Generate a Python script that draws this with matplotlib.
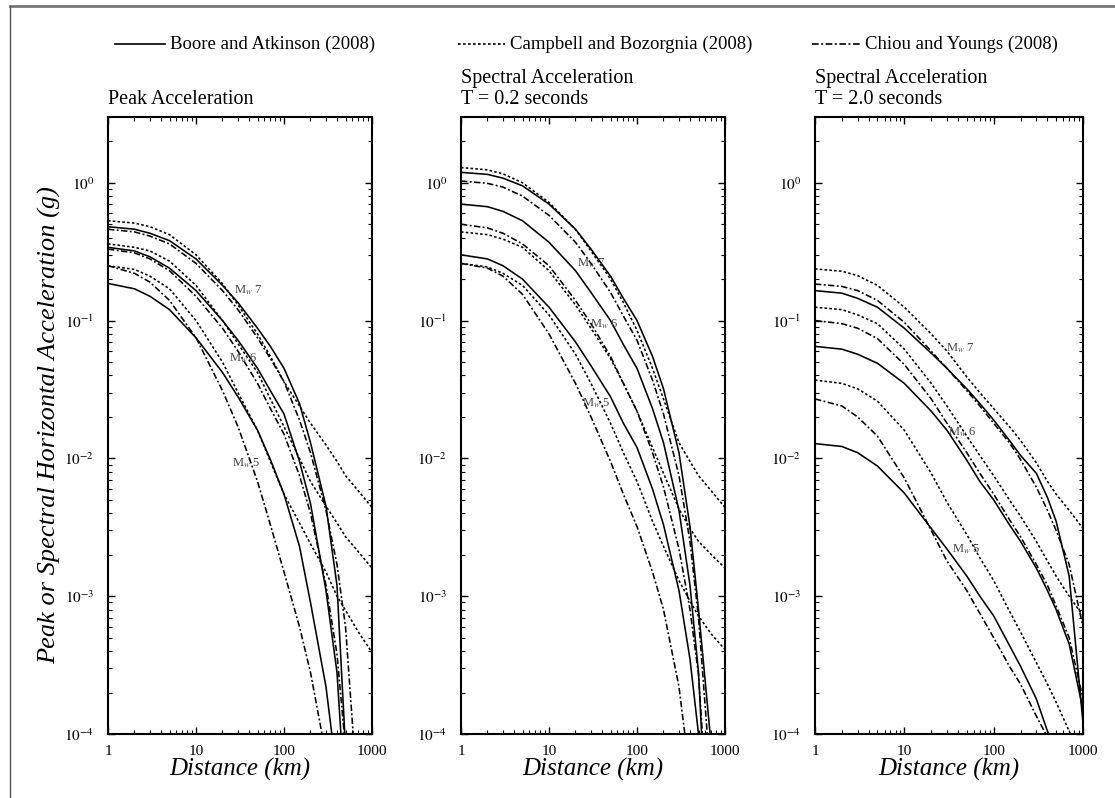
import numpy as np
import matplotlib
matplotlib.use("Agg")
import matplotlib.pyplot as plt
from matplotlib.lines import Line2D
from matplotlib.ticker import LogLocator, NullFormatter, FixedLocator

plt.rcParams['font.family'] = ['Liberation Serif', 'DejaVu Serif']
plt.rcParams['mathtext.fontset'] = 'stix'

dist = [1, 2, 3, 5, 10, 20, 30, 50, 70, 100, 150, 200, 300, 400, 500, 700, 1000]

#   Peak acceleration (g)
pga_ba = {7: [0.48, 0.46, 0.43, 0.38, 0.28, 0.18, 0.135, 0.088, 0.065, 0.045, 0.025, 0.013, 0.0045, 0.0012, 8e-5, 1e-7, 1e-9],
          6: [0.34, 0.32, 0.29, 0.24, 0.165, 0.10, 0.072, 0.045, 0.031, 0.021, 0.0095, 0.0047, 0.0011, 0.00028, 3e-5, 1e-7, 1e-9],
          5: [0.186, 0.17, 0.15, 0.12, 0.075, 0.042, 0.028, 0.016, 0.0098, 0.0055, 0.0023, 0.0009, 0.00022, 5e-5, 1e-6, 1e-8, 1e-9]}
pga_cb = {7: [0.53, 0.51, 0.48, 0.42, 0.30, 0.185, 0.13, 0.08, 0.055, 0.036, 0.024, 0.018, 0.0125, 0.0095, 0.0075, 0.0058, 0.0044],
          6: [0.36, 0.34, 0.32, 0.27, 0.18, 0.10, 0.068, 0.042, 0.027, 0.017, 0.010, 0.0068, 0.0045, 0.0034, 0.0027, 0.0021, 0.0016],
          5: [0.25, 0.235, 0.21, 0.17, 0.10, 0.05, 0.03, 0.016, 0.0095, 0.0055, 0.0034, 0.0024, 0.0015, 0.0010, 0.00079, 0.00055, 0.00039]}
pga_cy = {7: [0.46, 0.44, 0.41, 0.36, 0.26, 0.165, 0.12, 0.075, 0.053, 0.036, 0.019, 0.011, 0.0042, 0.0017, 0.0006, 3e-5, 1e-8],
          6: [0.33, 0.31, 0.28, 0.23, 0.15, 0.088, 0.06, 0.035, 0.023, 0.015, 0.0075, 0.004, 0.0012, 0.00038, 8e-5, 1e-7, 1e-9],
          5: [0.25, 0.22, 0.19, 0.14, 0.075, 0.031, 0.017, 0.0068, 0.0033, 0.0015, 0.0006, 0.00028, 7e-5, 1e-6, 1e-8, 1e-9, 1e-9]}

#   Spectral acceleration, T = 0.2 s (g)
sa02_ba = {7: [1.19, 1.15, 1.08, 0.95, 0.70, 0.46, 0.33, 0.21, 0.145, 0.10, 0.055, 0.032, 0.011, 0.0032, 0.0008, 8e-5, 1e-8],
           6: [0.70, 0.67, 0.62, 0.53, 0.37, 0.23, 0.16, 0.10, 0.067, 0.045, 0.023, 0.013, 0.0042, 0.0012, 0.00028, 4e-6, 1e-9],
           5: [0.30, 0.28, 0.25, 0.20, 0.125, 0.07, 0.047, 0.028, 0.018, 0.012, 0.006, 0.0033, 0.0011, 0.00035, 0.0001, 1e-6, 1e-9]}
sa02_cb = {7: [1.29, 1.24, 1.16, 1.0, 0.72, 0.46, 0.32, 0.20, 0.135, 0.085, 0.045, 0.027, 0.013, 0.0095, 0.0075, 0.0058, 0.0044],
           6: [0.44, 0.42, 0.39, 0.34, 0.23, 0.13, 0.088, 0.053, 0.035, 0.022, 0.012, 0.0078, 0.0043, 0.0031, 0.0025, 0.002, 0.0016],
           5: [0.26, 0.245, 0.22, 0.18, 0.11, 0.057, 0.035, 0.018, 0.011, 0.0068, 0.0035, 0.0023, 0.0013, 0.00092, 0.00072, 0.00053, 0.00041]}
sa02_cy = {7: [1.03, 0.99, 0.93, 0.80, 0.58, 0.37, 0.26, 0.16, 0.108, 0.072, 0.037, 0.021, 0.0075, 0.0025, 0.0007, 4e-5, 1e-8],
           6: [0.50, 0.47, 0.43, 0.36, 0.25, 0.14, 0.095, 0.055, 0.035, 0.022, 0.011, 0.0062, 0.0022, 0.0008, 0.00027, 1e-5, 1e-9],
           5: [0.26, 0.24, 0.21, 0.155, 0.08, 0.035, 0.02, 0.0095, 0.0055, 0.0032, 0.0015, 0.0008, 0.00022, 5e-5, 1e-6, 1e-9, 1e-9]}

#   Spectral acceleration, T = 2.0 s (g)
sa20_ba = {7: [0.165, 0.158, 0.145, 0.125, 0.088, 0.058, 0.045, 0.032, 0.025, 0.019, 0.0135, 0.0105, 0.0078, 0.0052, 0.0035, 0.0014, 0.00012],
           6: [0.065, 0.062, 0.057, 0.049, 0.035, 0.022, 0.016, 0.0097, 0.0068, 0.005, 0.0033, 0.0025, 0.0016, 0.0011, 0.0008, 0.00045, 0.00015],
           5: [0.0128, 0.0122, 0.011, 0.0088, 0.0056, 0.0031, 0.0022, 0.0014, 0.001, 0.00072, 0.00044, 0.00031, 0.00018, 0.000105, 8e-5, 4.5e-5, 2e-5]}
sa20_cb = {7: [0.237, 0.228, 0.212, 0.18, 0.125, 0.08, 0.06, 0.039, 0.03, 0.023, 0.017, 0.0135, 0.0093, 0.0068, 0.0055, 0.0042, 0.0031],
           6: [0.125, 0.12, 0.11, 0.095, 0.062, 0.035, 0.024, 0.0145, 0.0105, 0.0075, 0.005, 0.0038, 0.0025, 0.0018, 0.0014, 0.001, 0.00072],
           5: [0.037, 0.035, 0.032, 0.026, 0.016, 0.0078, 0.0048, 0.0028, 0.0019, 0.0013, 0.00078, 0.00055, 0.00033, 0.00023, 0.00017, 0.000105, 6e-5]}
sa20_cy = {7: [0.184, 0.177, 0.165, 0.14, 0.097, 0.06, 0.045, 0.031, 0.024, 0.018, 0.013, 0.0098, 0.0062, 0.0042, 0.003, 0.0017, 0.0006],
           6: [0.10, 0.095, 0.088, 0.074, 0.048, 0.027, 0.018, 0.011, 0.0078, 0.0055, 0.0036, 0.0027, 0.0017, 0.0012, 0.00085, 0.0005, 0.00018],
           5: [0.027, 0.024, 0.02, 0.0145, 0.0072, 0.003, 0.0018, 0.0011, 0.00075, 0.0005, 0.00031, 0.00023, 0.000135, 9.5e-5, 7e-5, 4e-5, 2e-5]}

titles = ["Peak Acceleration",
          "Spectral Acceleration\nT = 0.2 seconds",
          "Spectral Acceleration\nT = 2.0 seconds"]
panels = [(pga_ba, pga_cb, pga_cy), (sa02_ba, sa02_cb, sa02_cy), (sa20_ba, sa20_cb, sa20_cy)]

#   Magnitude label positions (distance km, acceleration g)
mag_labels = [{7: (27, 0.165), 6: (24, 0.053), 5: (25.5, 0.0092)},
              {7: (21, 0.26), 6: (29, 0.095), 5: (24, 0.025)},
              {7: (29, 0.063), 6: (31, 0.0155), 5: (34, 0.0022)}]

model_names = ["Boore and Atkinson (2008)",
               "Campbell and Bozorgnia (2008)",
               "Chiou and Youngs (2008)"]
styles = ['-', (0, (1.6, 1.4)), (0, (4, 1.5, 1.2, 1.5))]

W, H = 1115, 798
fig = plt.figure(figsize=(W / 100, H / 100), dpi=100)

#   Axes boxes in pixels: left, right
boxes = [(108, 372), (461, 725), (815, 1083)]
top_px, bot_px = 117, 734

for i, (l, r) in enumerate(boxes):
    ax = fig.add_axes([l / W, 1 - bot_px / H, (r - l) / W, (bot_px - top_px) / H])
    for model, ls in zip(panels[i], styles):
        for m in (7, 6, 5):
            ax.plot(dist, model[m], color='black', linestyle=ls, linewidth=1.15)
    ax.set_xscale('log')
    ax.set_yscale('log')
    ax.set_xlim(1, 1000)
    ax.set_ylim(1e-4, 3)
    ax.xaxis.set_major_locator(FixedLocator([1, 10, 100, 1000]))
    ax.set_xticklabels(['1', '10', '100', '1000'])
    ax.yaxis.set_major_locator(FixedLocator([1e-4, 1e-3, 1e-2, 1e-1, 1e0]))
    ax.set_yticklabels([r'$10^{-4}$', r'$10^{-3}$', r'$10^{-2}$', r'$10^{-1}$', r'$10^{0}$'])
    ax.xaxis.set_minor_locator(LogLocator(base=10, subs=np.arange(2, 10), numticks=20))
    ax.yaxis.set_minor_locator(LogLocator(base=10, subs=np.arange(2, 10), numticks=20))
    ax.xaxis.set_minor_formatter(NullFormatter())
    ax.yaxis.set_minor_formatter(NullFormatter())
    ax.tick_params(which='both', direction='in', top=True, right=True, labelsize=11)
    ax.tick_params(which='major', length=5, width=1)
    ax.tick_params(which='minor', length=3, width=0.8)
    ax.tick_params(axis='x', which='major', pad=8)
    ax.tick_params(axis='y', which='major', pad=10)
    for sp in ax.spines.values():
        sp.set_linewidth(1.5)
    ax.set_xlabel("Distance (km)", fontsize=18, style='italic', labelpad=0)
    ax.set_title(titles[i], loc='left', fontsize=14.5, pad=9, linespacing=1.2)
    for m, (xd, yv) in mag_labels[i].items():
        ax.text(xd, yv, r'M$_w$ %d' % m, fontsize=9, color='#444444', va='center', ha='left')

fig.text(50 / W, 1 - 425 / H, "Peak or Spectral Horizontal Acceleration (g)",
         rotation=90, fontsize=19, style='italic', ha='center', va='center')

#   Legend across the top
leg_y = 1 - 44 / H
leg = [(115, 165, 170), (458, 505, 510), (812, 860, 865)]
for (x0, x1, xt), name, ls in zip(leg, model_names, styles):
    fig.add_artist(Line2D([x0 / W, x1 / W], [leg_y, leg_y], color='black', linestyle=ls, linewidth=1.2))
    fig.text(xt / W, leg_y, name, fontsize=13.5, va='center', ha='left')

#   Outer frame
fig.add_artist(Line2D([10 / W, 1], [1 - 6 / H, 1 - 6 / H], color='#777777', linewidth=2))
fig.add_artist(Line2D([10 / W, 10 / W], [0, 1 - 6 / H], color='#555555', linewidth=1))

fig.savefig("out.png", dpi=100)
